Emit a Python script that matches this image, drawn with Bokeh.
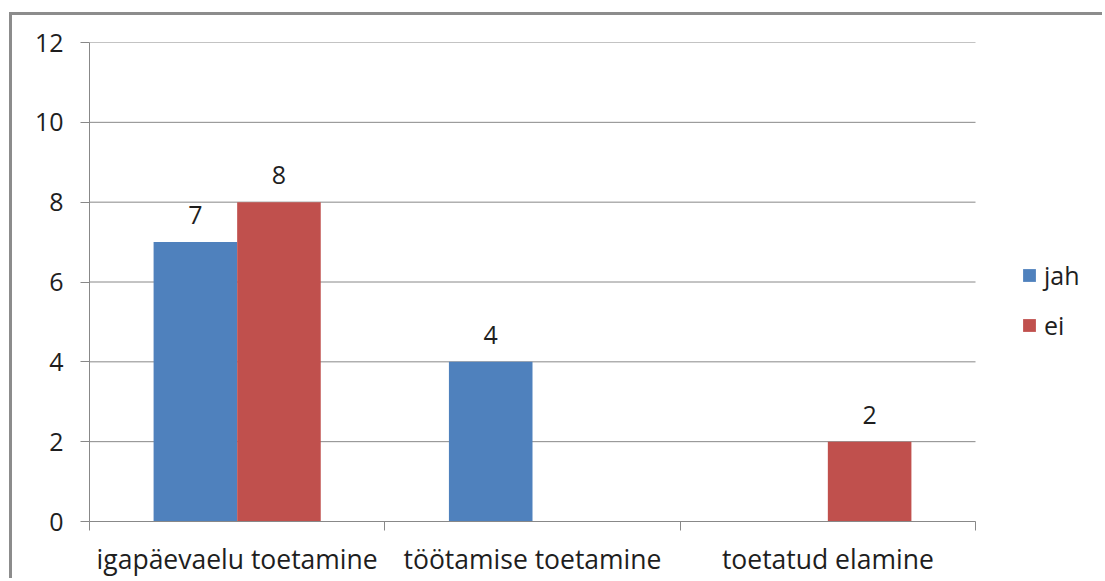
from bokeh.plotting import figure
from bokeh.models import (ColumnDataSource, FixedTicker, Legend, LegendItem, Range1d)
from bokeh.core.properties import value
from bokeh.embed import file_html
from bokeh.resources import INLINE

categories = ["igapäevaelu toetamine", "töötamise toetamine", "toetatud elamine"]
series_names = ["jah", "ei"]
jah = [7, 4, 0]
ei = [8, 0, 2]
y_ticks = [0, 2, 4, 6, 8, 10, 12]

BLUE = "#4F81BD"
RED = "#C0504D"
GRID = "#888888"
FONT = "Open Sans"
TXT = "#1e1e1e"

n = len(categories)
# plot area spans n categories over 886px, extended to leave room for the legend
x_end = n * 1011 / 886

p = figure(width=1093, height=566, output_backend="svg", toolbar_location=None,
           x_range=Range1d(0, x_end), y_range=Range1d(0, 12),
           min_border_left=77, min_border_right=5, min_border_top=27,
           min_border_bottom=60)
p.outline_line_color = None
p.background_fill_color = "white"
p.border_fill_color = "white"

# horizontal gridlines limited to the category area
p.segment(x0=0, x1=n, y0=y_ticks, y1=y_ticks, line_color=GRID, line_width=1,
          level="underlay")

bar_w = 0.283
centers = [i + 0.5 for i in range(n)]
src_jah = ColumnDataSource(dict(x=[c - bar_w / 2 for c in centers], top=jah,
                                lab=[str(v) if v else "" for v in jah]))
src_ei = ColumnDataSource(dict(x=[c + bar_w / 2 for c in centers], top=ei,
                               lab=[str(v) if v else "" for v in ei]))

r1 = p.vbar(x="x", top="top", bottom=0, width=bar_w, source=src_jah,
            fill_color=BLUE, line_color=None)
r2 = p.vbar(x="x", top="top", bottom=0, width=bar_w, source=src_ei,
            fill_color=RED, line_color=None)

for src in (src_jah, src_ei):
    p.text(x="x", y="top", text="lab", source=src, text_align="center",
           text_baseline="bottom", y_offset=-18, text_font=value(FONT),
           text_font_size="25px", text_color=TXT)

# axes
p.xaxis.bounds = (0, n)
p.xaxis.ticker = FixedTicker(ticks=centers, minor_ticks=list(range(n + 1)))
p.xaxis.major_label_overrides = {c: categories[i] for i, c in enumerate(centers)}
p.xaxis.major_tick_line_color = None
p.xaxis.major_tick_out = 0
p.xaxis.major_tick_in = 0
p.xaxis.minor_tick_line_color = GRID
p.xaxis.minor_tick_out = 9
p.xaxis.minor_tick_in = 0
p.xaxis.axis_line_color = GRID
p.xaxis.major_label_standoff = 10
p.xaxis.major_label_text_font = FONT
p.xaxis.major_label_text_font_size = "26.5px"
p.xaxis.major_label_text_color = TXT

p.yaxis.ticker = FixedTicker(ticks=y_ticks, minor_ticks=[])
p.yaxis.axis_line_color = GRID
p.yaxis.major_tick_line_color = GRID
p.yaxis.major_tick_out = 9
p.yaxis.major_tick_in = 0
p.yaxis.minor_tick_line_color = None
p.yaxis.major_label_standoff = 17
p.yaxis.major_label_text_font = FONT
p.yaxis.major_label_text_font_size = "25px"
p.yaxis.major_label_text_color = TXT

p.xgrid.grid_line_color = None
p.ygrid.grid_line_color = None

legend = Legend(items=[LegendItem(label=series_names[0], renderers=[r1]),
                       LegendItem(label=series_names[1], renderers=[r2])],
                location=(932, 179), glyph_width=16, glyph_height=16,
                label_standoff=7, spacing=16, padding=10, margin=0,
                label_text_font=FONT, label_text_font_size="25px",
                label_text_color=TXT, border_line_color=None,
                background_fill_alpha=0)
p.add_layout(legend, "center")

p.styles = {"border-left": "3px solid #8c8c8c", "border-top": "3px solid #8c8c8c"}
p.margin = (12, 0, 0, 9)

open("out.html", "w").write(file_html(p, INLINE))
